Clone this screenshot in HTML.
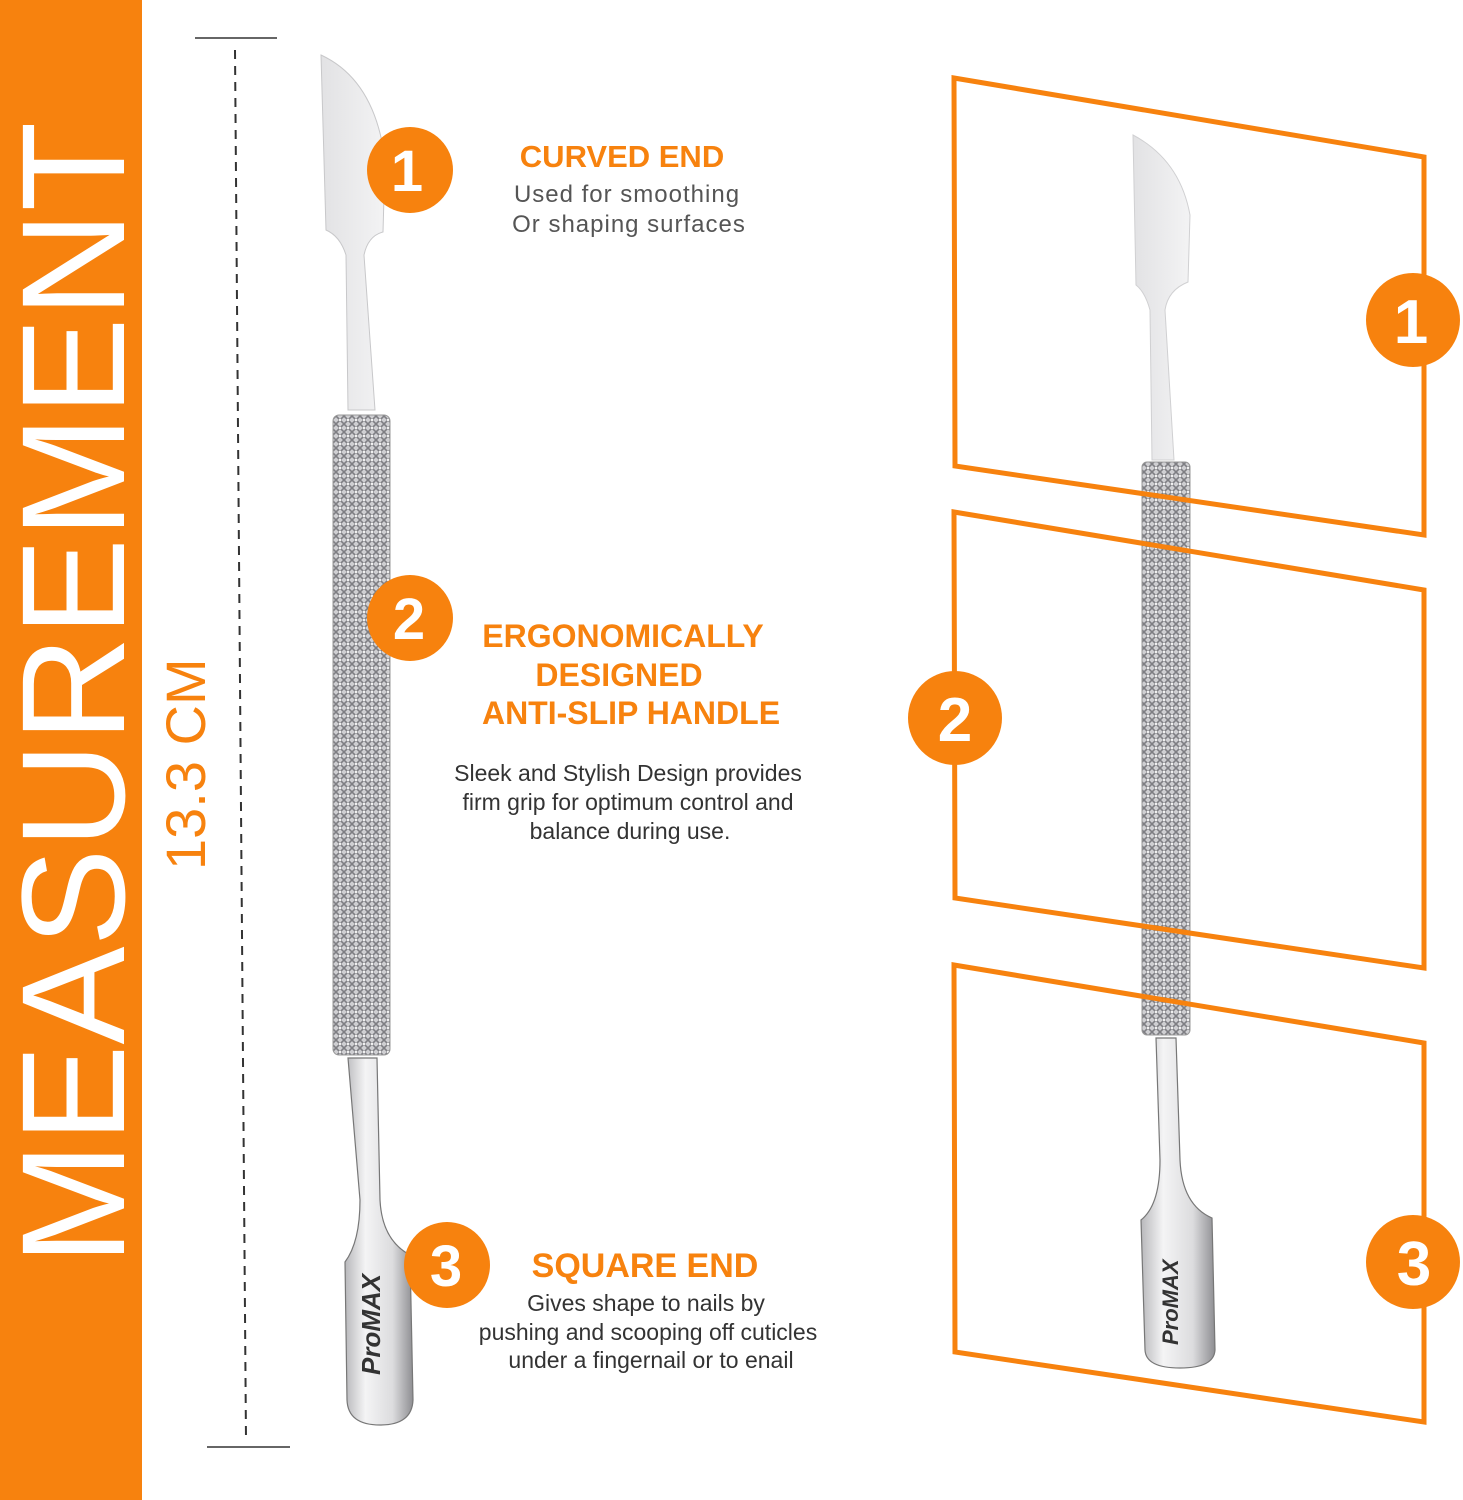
<!DOCTYPE html>
<html><head><meta charset="utf-8"><style>
html,body{margin:0;padding:0;background:#fff;}
svg{display:block;}
text{font-family:"Liberation Sans",sans-serif;}
</style></head><body>
<svg width="1463" height="1500" viewBox="0 0 1463 1500" xmlns="http://www.w3.org/2000/svg">
<defs>
<pattern id="knurl" width="8" height="8" patternUnits="userSpaceOnUse">
<rect width="8" height="8" fill="#cfcfd2"/>
<path d="M0 0L8 8M8 0L0 8" stroke="#7e7e83" stroke-width="1.6"/>
<circle cx="4" cy="4" r="1.2" fill="#f4f4f4"/>
</pattern>
<linearGradient id="steel" x1="0" x2="1" y1="0" y2="0">
<stop offset="0" stop-color="#b8b8bb"/><stop offset="0.3" stop-color="#f4f4f5"/><stop offset="0.7" stop-color="#dcdcde"/><stop offset="1" stop-color="#8e8e92"/>
</linearGradient>
<linearGradient id="blade" x1="0" x2="1" y1="0" y2="0">
<stop offset="0" stop-color="#e2e2e4"/><stop offset="1" stop-color="#f3f3f4"/>
</linearGradient>
</defs>
<rect x="0" y="0" width="142" height="1500" fill="#f7820e"/>
<text transform="translate(124,1265) rotate(-90)" font-size="147" fill="#fff">MEASUREMENT</text>
<text transform="translate(205,870) rotate(-90)" font-size="56" fill="#f7820e">13.3 CM</text>
<line x1="195" y1="38" x2="277" y2="38" stroke="#333" stroke-width="1.5"/>
<line x1="207" y1="1447" x2="290" y2="1447" stroke="#333" stroke-width="1.5"/>
<line x1="235" y1="50" x2="246" y2="1440" stroke="#333" stroke-width="2" stroke-dasharray="9,7"/>

<path d="M321 55 Q375 80 385 160 L383 232 Q368 236 364 255 L375 410 L348 410 L346 255 Q340 236 326 230 Z" fill="url(#blade)" stroke="#c8c8ca" stroke-width="1"/>
<rect x="333" y="415" width="57" height="640" rx="6" fill="url(#knurl)" stroke="#999" stroke-width="1"/>
<path d="M348 1058 L377 1058 L380 1200 Q382 1240 410 1255 L413 1400 Q412 1425 380 1425 Q348 1425 347 1400 L345 1262 Q360 1242 360 1200 Z" fill="url(#steel)" stroke="#777" stroke-width="1.2"/>
<text transform="translate(380,1375) rotate(-90)" font-size="26" font-weight="bold" font-style="italic" fill="#333">ProMAX</text>

<path d="M1133 135 Q1180 160 1190 215 L1188 282 Q1168 290 1165 310 L1174 460 L1152 460 L1150 310 Q1145 292 1136 285 Z" fill="url(#blade)" stroke="#d0d0d2" stroke-width="1"/>
<rect x="1142" y="462" width="48" height="573" rx="5" fill="url(#knurl)" stroke="#999" stroke-width="1"/>
<path d="M1156 1038 L1176 1038 L1180 1160 Q1182 1205 1212 1218 L1215 1350 Q1214 1368 1180 1368 Q1146 1368 1145 1350 L1141 1220 Q1160 1205 1160 1160 Z" fill="url(#steel)" stroke="#777" stroke-width="1.2"/>
<text transform="translate(1178,1345) rotate(-90)" font-size="22" font-weight="bold" font-style="italic" fill="#333">ProMAX</text>

<g fill="none" stroke="#f7820e" stroke-width="5" stroke-linejoin="miter">
<path d="M954 78 L1424 157 L1424 535 L955 466 Z"/>
<path d="M954 512 L1424 590 L1424 968 L955 898 Z"/>
<path d="M954 965 L1424 1043 L1424 1422 L955 1352 Z"/>
</g>

<g fill="#f7820e">
<circle cx="410" cy="170" r="43"/><circle cx="410" cy="618" r="43"/><circle cx="447" cy="1265" r="43"/>
<circle cx="1413" cy="320" r="47"/><circle cx="955" cy="718" r="47"/><circle cx="1413" cy="1262" r="47"/>
</g>
<g fill="#fff" font-weight="bold" text-anchor="middle">
<text x="407" y="191" font-size="58">1</text>
<text x="409" y="639" font-size="58">2</text>
<text x="446" y="1286" font-size="58">3</text>
<text x="1411" y="343" font-size="62">1</text>
<text x="955" y="741" font-size="62">2</text>
<text x="1414" y="1285" font-size="62">3</text>
</g>

<g text-anchor="middle">
<text x="622" y="167" font-size="31" font-weight="bold" fill="#f7820e">CURVED END</text>
<text x="627" y="202" font-size="24" fill="#555" letter-spacing="1">Used for smoothing</text>
<text x="629" y="232" font-size="24" fill="#555" letter-spacing="1">Or shaping surfaces</text>
<text x="623" y="647" font-size="32" font-weight="bold" fill="#f7820e">ERGONOMICALLY</text>
<text x="619" y="686" font-size="32" font-weight="bold" fill="#f7820e">DESIGNED</text>
<text x="631" y="724" font-size="32" font-weight="bold" fill="#f7820e">ANTI-SLIP HANDLE</text>
<text x="628" y="781" font-size="23" fill="#333">Sleek and Stylish Design provides</text>
<text x="628" y="810" font-size="23" fill="#333">firm grip for optimum control and</text>
<text x="630" y="839" font-size="23" fill="#333">balance during use.</text>
<text x="645" y="1277" font-size="34" font-weight="bold" fill="#f7820e">SQUARE END</text>
<text x="646" y="1311" font-size="23" fill="#333">Gives shape to nails by</text>
<text x="648" y="1340" font-size="23" fill="#333">pushing and scooping off cuticles</text>
<text x="651" y="1368" font-size="23" fill="#333">under a fingernail or to enail</text>
</g>
</svg>
</body></html>
